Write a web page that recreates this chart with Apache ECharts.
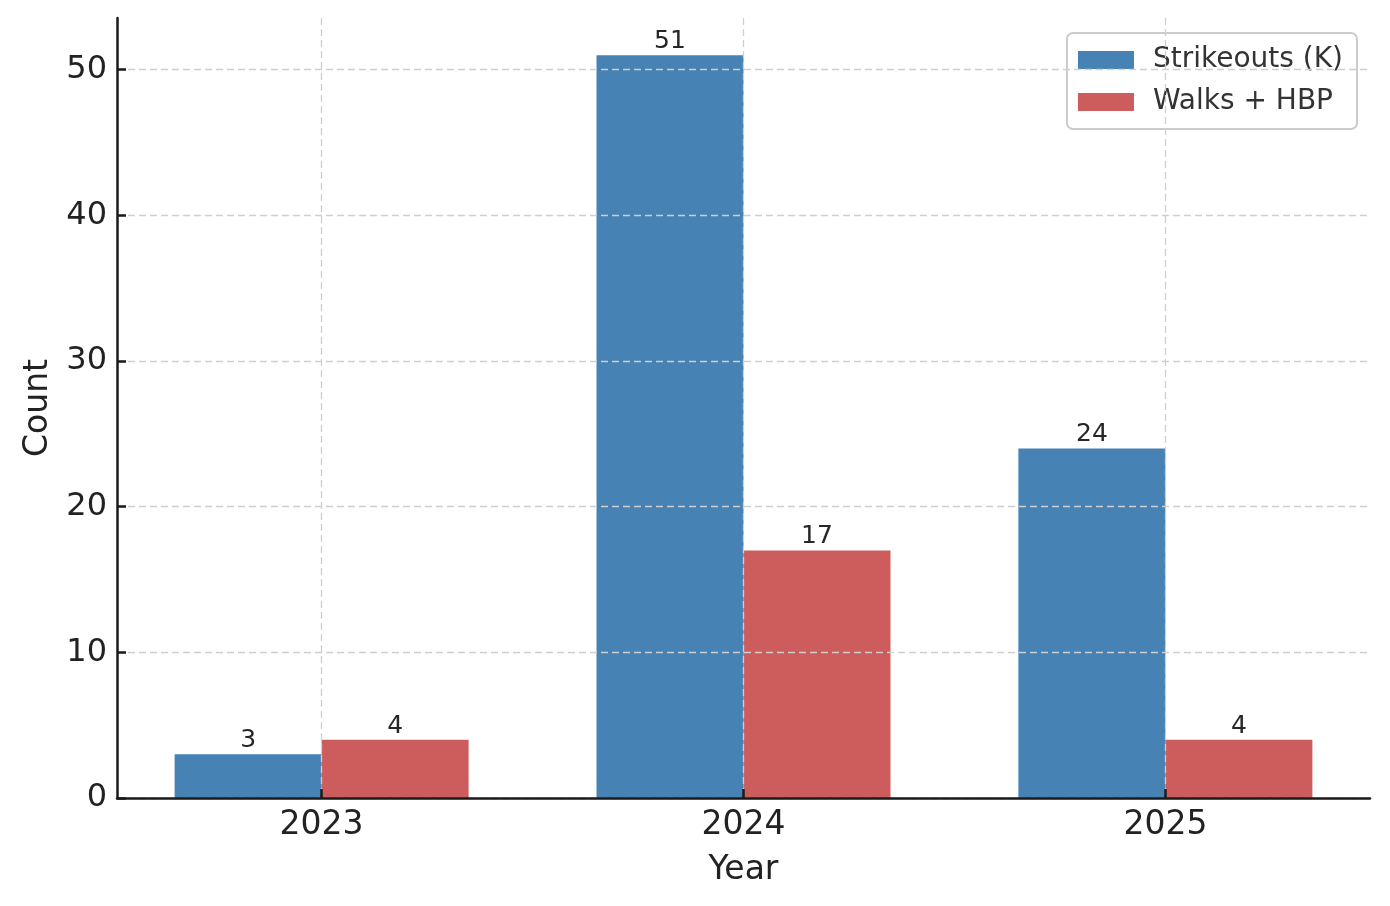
<!DOCTYPE html>
<html>
<head>
<meta charset="utf-8">
<script src="https://cdn.jsdelivr.net/npm/echarts@6/dist/echarts.min.js"></script>
<style>
  html, body { margin: 0; padding: 0; background: #fff; }
  #chart { width: 1390px; height: 906px; }
</style>
</head>
<body>
<div id="chart"></div>
<script>
// data
var years = ['2023', '2024', '2025'];
var strikeouts = [3, 51, 24];
var walksHbp = [4, 17, 4];
var yTicks = [0, 10, 20, 30, 40, 50];

var font = 'DejaVu Sans';
var gridLine = { color: '#cfcfcf', width: 1.3, type: [7, 4] };
var axisBlack = { color: '#1a1a1a', width: 2.5 };

// x positions as numbers so the bars can sit across the category line
var xPos = years.map(function (y, i) { return i; });
var toPoints = function (vals) {
  return vals.map(function (v, i) { return [xPos[i], v]; });
};

var chart = echarts.init(document.getElementById('chart'));
var option = {
  animation: false,
  textStyle: { fontFamily: font },
  grid: { left: 117, right: 20, top: 18, bottom: 108 },
  legend: {
    orient: 'vertical',
    right: 33,
    top: 33,
    padding: [13, 14, 13, 11],
    itemWidth: 56,
    itemHeight: 18,
    itemGap: 14,
    borderColor: '#cccccc',
    borderWidth: 2,
    borderRadius: 6,
    backgroundColor: 'rgba(255,255,255,0.85)',
    icon: 'rect',
    textStyle: { fontFamily: font, fontSize: 28, color: '#333', lineHeight: 28, padding: [0, 0, 0, 14] },
    data: ['Strikeouts (K)', 'Walks + HBP']
  },
  xAxis: {
    type: 'value',
    min: -0.485,
    max: 2.485,
    z: 5,
    name: 'Year',
    nameLocation: 'middle',
    nameGap: 56,
    nameTextStyle: { fontFamily: font, fontSize: 33, color: '#222' },
    axisLine: { show: true, onZero: false, lineStyle: axisBlack },
    axisTick: { show: true, inside: true, length: 9, lineStyle: axisBlack, customValues: xPos },
    axisLabel: {
      customValues: xPos,
      margin: 11,
      fontFamily: font,
      fontSize: 33,
      color: '#222',
      formatter: function (v) { return years[Math.round(v)]; }
    },
    splitLine: { show: true, lineStyle: gridLine }
  },
  yAxis: {
    type: 'value',
    min: 0,
    max: 53.55,
    interval: 10,
    z: 5,
    name: 'Count',
    nameLocation: 'middle',
    nameGap: 62,
    nameTextStyle: { fontFamily: font, fontSize: 33, color: '#222' },
    axisLine: { show: true, onZero: false, lineStyle: axisBlack },
    axisTick: { show: true, inside: true, length: 9, lineStyle: axisBlack, customValues: yTicks },
    axisLabel: {
      customValues: yTicks,
      margin: 10,
      fontFamily: font,
      fontSize: 32,
      color: '#222',
      padding: [5, 0, 0, 0]
    },
    splitLine: { show: true, lineStyle: gridLine }
  },
  series: [
    {
      name: 'Strikeouts (K)',
      type: 'bar',
      data: toPoints(strikeouts),
      barWidth: 147,
      barGap: '0%',
      itemStyle: { color: '#4682B4' },
      label: { show: true, position: 'top', distance: 1, fontFamily: font, fontSize: 25, color: '#262626' }
    },
    {
      name: 'Walks + HBP',
      type: 'bar',
      data: toPoints(walksHbp),
      barWidth: 147,
      barGap: '0%',
      itemStyle: { color: '#CD5C5C' },
      label: { show: true, position: 'top', distance: 1, fontFamily: font, fontSize: 25, color: '#262626' }
    }
  ]
};
chart.setOption(option);
</script>
</body>
</html>
